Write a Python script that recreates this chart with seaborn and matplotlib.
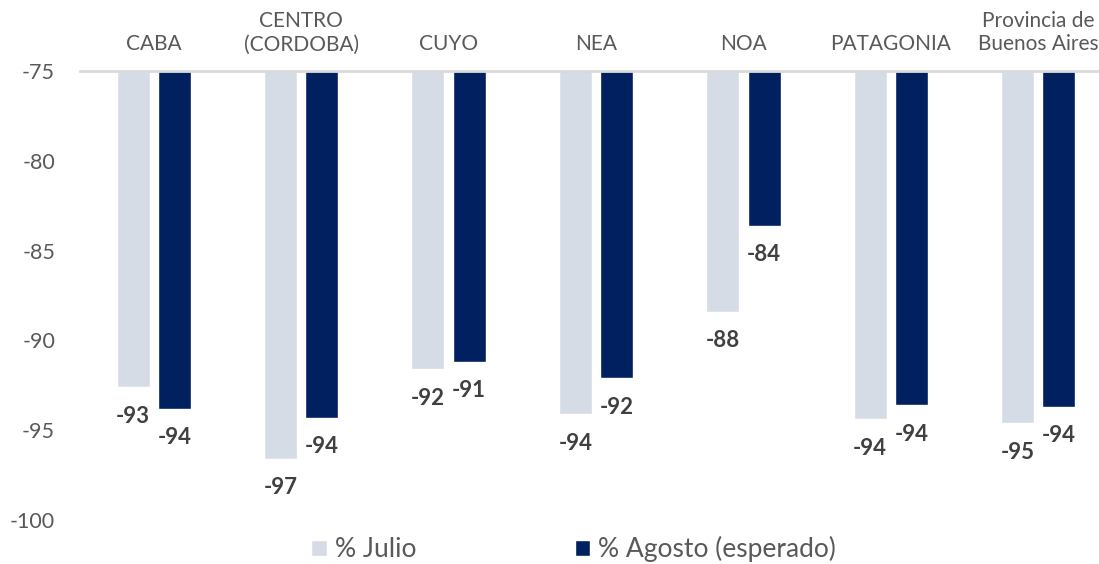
import pandas as pd
import seaborn as sns
import matplotlib.pyplot as plt

# Data
regions = ["CABA", "CENTRO\n(CORDOBA)", "CUYO", "NEA", "NOA", "PATAGONIA",
           "Provincia de\nBuenos Aires"]
julio = [-92.6, -96.6, -91.6, -94.1, -88.4, -94.4, -94.6]
agosto = [-93.8, -94.3, -91.2, -92.1, -83.6, -93.6, -93.7]
series = ["% Julio", "% Agosto (esperado)"]
colors = ["#d6dce5", "#002060"]
base = -75
yticks = [-75, -80, -85, -90, -95, -100]

df = pd.DataFrame({
    "region": regions * 2,
    "serie": [series[0]] * len(regions) + [series[1]] * len(regions),
    "value": julio + agosto,
})

sns.set_style("white")
plt.rcParams["font.family"] = ["Lato", "DejaVu Sans"]

fig = plt.figure(figsize=(10.99, 5.64), dpi=100)
ax = fig.add_axes([0.0728, 0.078, 0.939, 0.796])

sns.barplot(data=df, x="region", y="value", hue="serie", palette=colors,
            saturation=1, width=0.56, gap=0.2, ax=ax, errorbar=None)

# bars hang down from the -75 baseline
for cont, vals in zip(ax.containers, [julio, agosto]):
    for p, v in zip(cont.patches, vals):
        p.set_y(base)
        p.set_height(v - base)
        ax.annotate(f"{round(v):.0f}", (p.get_x() + p.get_width() / 2, v),
                    xytext=(0, -29), textcoords="offset pixels",
                    ha="center", va="center", fontsize=16,
                    fontweight="bold", color="#404040")

ax.set_ylim(-100, -75)
ax.set_yticks(yticks)
ax.set_yticklabels([str(t) for t in yticks])
ax.xaxis.tick_top()
ax.tick_params(axis="x", length=0, pad=12, labelsize=15, labelcolor="#595959")
ax.tick_params(axis="y", length=0, pad=18, labelsize=15.5, labelcolor="#595959")
ax.set_xlabel("")
ax.set_ylabel("")

for s in ["left", "right", "bottom"]:
    ax.spines[s].set_visible(False)
ax.spines["top"].set_color("#d9d9d9")
ax.spines["top"].set_linewidth(2)

handles, labels = ax.get_legend_handles_labels()
ax.get_legend().remove()
leg = fig.legend(handles, labels, loc="center", bbox_to_anchor=(0.522, 0.026),
                 ncol=2, frameon=False, fontsize=19, handlelength=0.6,
                 handleheight=0.6, handletextpad=0.3, columnspacing=6.0)
for t in leg.get_texts():
    t.set_color("#595959")

fig.savefig("out.png", dpi=100)
